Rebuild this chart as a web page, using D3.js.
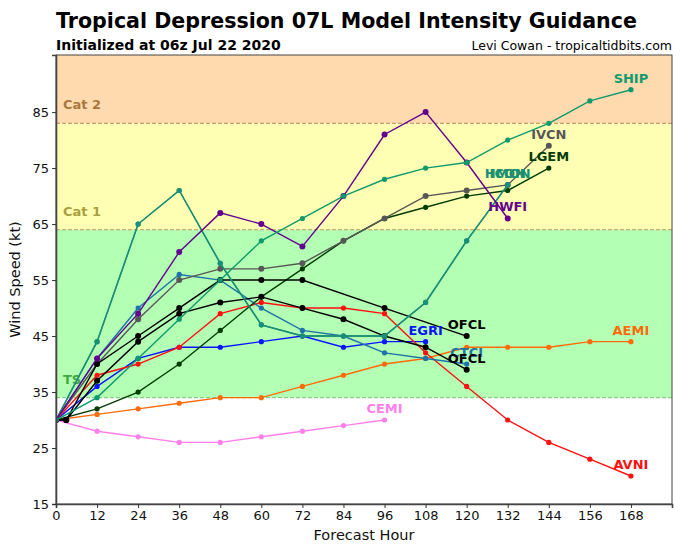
<!DOCTYPE html>
<html><head><meta charset="utf-8">
<script src="https://cdn.jsdelivr.net/npm/d3@7"></script>
<style>body{margin:0;background:#fff}svg{display:block}text{font-family:"DejaVu Sans",sans-serif}</style>
</head><body><svg id="c" width="700" height="547"></svg>
<script>
const hours = [0,12,24,36,48,60,72,84,96,108,120,132,144,156,168];
const xTicks = [0,12,24,36,48,60,72,84,96,108,120,132,144,156,168];
const yTicks = [15,25,35,45,55,65,75,85];
const bands = [
  {lo:83, hi:200, fill:"#ffdaae"},
  {lo:64, hi:83, fill:"#ffffb3"},
  {lo:34, hi:64, fill:"#b3ffb3"},
];
const bandLines = [{v:83,c:"#c8a070"},{v:64,c:"#c8b070"},{v:34,c:"#88cc88"}];
const catLabels = [{t:"Cat 2",v:85.5,c:"#a87840"},{t:"Cat 1",v:66.5,c:"#a8a040"},{t:"TS",v:36.5,c:"#44a844"}];

// series: hours and values
const cemiH = [0,12,24,36,48,60,72,84,96];
const cemiV = [30,28,27,26,26,27,28,29,30];
const aemiH = hours;
const aemiV = [30,31,32,33,34,34,36,38,40,41,43,43,43,44,44];
const egriH = [0,12,24,36,48,60,72,84,96,108];
const egriV = [30,36,41,43,43,44,45,43,44,44];
const avniH = hours;
const avniV = [30,38,40,43,49,51,50,50,49,42,36,30,26,23,20];
const ctciH = [0,12,24,36,48,60,72,84,96,108,120];
const ctciV = [30,41,50,56,55,50,46,45,42,41,40];
const lgemH = [0,12,24,36,48,60,72,84,96,108,120,132,144];
const lgemV = [30,32,35,40,46,52,57,62,66,68,70,71,75];
const ivcnH = [0,12,24,36,48,60,72,84,96,108,120,132,144];
const ivcnV = [30,40,48,55,57,57,58,62,66,70,71,72,79];
const ofcl2H = [0,3,12,24,36,48,60,72,84,96,108,120];
const ofcl2V = [30,30,37,44,49,51,52,50,48,45,43,39];
const ofclH = [0,3,12,24,36,48,60,72,96,120];
const ofclV = [30,30,40,45,50,55,55,55,50,45];
const iconH = [0,12,24,36,48,60,72,84,96,108,120,132];
const iconV = [30,44,65,71,58,47,45,45,45,51,62,72];
const hmonH = [0,12,24,36,48,60,72,84,96,108,120,132];
const hmonV = [30,44,65,71,58,47,45,45,45,51,62,72];
const hwfiH = [0,12,24,36,48,60,72,84,96,108,120,132];
const hwfiV = [30,41,49,60,67,65,61,70,81,85,76,66];
const shipH = hours;
const shipV = [30,34,41,48,55,62,66,70,73,75,76,80,83,87,89];

const series = [
  {name:"CEMI", h:cemiH, v:cemiV, color:"#ff80ec"},
  {name:"AEMI", h:aemiH, v:aemiV, color:"#ff6a0a"},
  {name:"EGRI", h:egriH, v:egriV, color:"#0a14ff"},
  {name:"AVNI", h:avniH, v:avniV, color:"#ff1010"},
  {name:"CTCI", h:ctciH, v:ctciV, color:"#1f73a8"},
  {name:"LGEM", h:lgemH, v:lgemV, color:"#033d03"},
  {name:"IVCN", h:ivcnH, v:ivcnV, color:"#575757", r:3},
  {name:"OFCL", h:ofcl2H, v:ofcl2V, color:"#000000", r:3},
  {name:"OFCL", h:ofclH, v:ofclV, color:"#000000", r:3},
  {name:"ICON", h:iconH, v:iconV, color:"#2a8f5e"},
  {name:"HMON", h:hmonH, v:hmonV, color:"#178f7a"},
  {name:"HWFI", h:hwfiH, v:hwfiV, color:"#640090", r:3},
  {name:"SHIP", h:shipH, v:shipV, color:"#0f9a6c"},
];

const svg = d3.select("#c");
const L=56, R=672, T=55, B=504;
const x = d3.scaleLinear().domain([0,180]).range([L,R]);
const y = d3.scaleLinear().domain([15,95.2]).range([B,T]);

svg.append("clipPath").attr("id","pc").append("rect")
  .attr("x",L).attr("y",T).attr("width",R-L).attr("height",B-T);
const g = svg.append("g").attr("clip-path","url(#pc)");
bands.forEach(b=>{
  const hi=Math.min(b.hi,95.2);
  g.append("rect").attr("x",L).attr("width",R-L)
   .attr("y",y(hi)).attr("height",y(b.lo)-y(hi)).attr("fill",b.fill);
});
bandLines.forEach(l=>{
  g.append("line").attr("x1",L).attr("x2",R).attr("y1",y(l.v)).attr("y2",y(l.v))
   .attr("stroke",l.c).attr("stroke-width",1.2).attr("stroke-dasharray","4,2");
});
catLabels.forEach(c=>{
  g.append("text").attr("x",L+7).attr("y",y(c.v)).attr("fill",c.c)
   .attr("font-size",13).attr("font-weight","bold").text(c.t);
});

const line = d3.line().x(d=>x(d[0])).y(d=>y(d[1]));
series.forEach(s=>{
  const pts = s.h.map((h,i)=>[h,s.v[i]]);
  g.append("path").datum(pts).attr("d",line).attr("fill","none")
   .attr("stroke",s.color).attr("stroke-width",1.4);
  g.selectAll(null).data(pts).enter().append("circle")
   .attr("cx",d=>x(d[0])).attr("cy",d=>y(d[1])).attr("r",s.r||2.6).attr("fill",s.color);
});
series.forEach(s=>{
  const n=s.h.length-1;
  g.append("text").attr("x",x(s.h[n])).attr("y",y(s.v[n])-7)
   .attr("text-anchor","middle").attr("font-size",13).attr("font-weight","bold")
   .attr("fill",s.color).text(s.name);
});

svg.append("rect").attr("x",L).attr("y",T).attr("width",R-L).attr("height",B-T)
  .attr("fill","none").attr("stroke","#444").attr("stroke-width",1);

const xa = svg.append("g").attr("transform",`translate(0,${B})`)
  .call(d3.axisBottom(x).tickValues(xTicks).tickSize(4).tickPadding(3));
const ya = svg.append("g").attr("transform",`translate(${L},0)`)
  .call(d3.axisLeft(y).tickValues(yTicks).tickSize(4).tickPadding(3));
[xa,ya].forEach(a=>{
  a.select(".domain").attr("stroke","#444").attr("stroke-width",1.6);
  a.selectAll(".tick line").attr("stroke","#333");
  a.selectAll(".tick text").attr("font-size",13).attr("fill","#111").attr("font-family","DejaVu Sans");
});

svg.append("text").attr("x",(L+R)/2).attr("y",540).attr("text-anchor","middle")
  .attr("font-size",14.5).attr("fill","#111").text("Forecast Hour");
svg.append("text").attr("transform",`translate(20,${(T+B)/2}) rotate(-90)`)
  .attr("text-anchor","middle").attr("font-size",14.5).attr("fill","#111").text("Wind Speed (kt)");

svg.append("text").attr("x",L).attr("y",28).attr("font-size",20.6).attr("font-weight","bold")
  .attr("fill","#000").text("Tropical Depression 07L Model Intensity Guidance");
svg.append("text").attr("x",L).attr("y",50).attr("font-size",14).attr("font-weight","bold")
  .attr("fill","#000").text("Initialized at 06z Jul 22 2020");
svg.append("text").attr("x",R).attr("y",50).attr("text-anchor","end").attr("font-size",12.5)
  .attr("fill","#000").text("Levi Cowan - tropicaltidbits.com");
</script></body></html>
